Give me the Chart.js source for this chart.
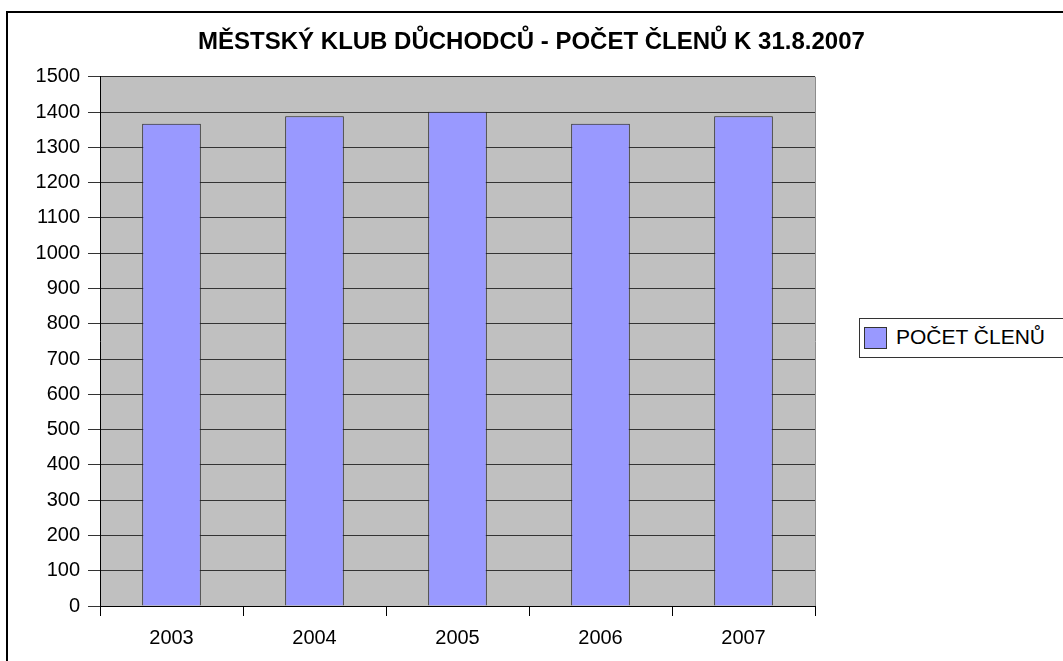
<!DOCTYPE html>
<html lang="cs">
<head>
<meta charset="UTF-8">
<title>Městský klub důchodců</title>
<script src="https://cdn.jsdelivr.net/npm/chart.js@4.4.1/dist/chart.umd.min.js"></script>
<style>
  body { margin: 0; background: #fff; font-family: "Liberation Sans", Arial, sans-serif; }
  #wrap { position: relative; width: 1063px; height: 661px; overflow: hidden; }
  #frame { position: absolute; left: 6px; top: 11px; width: 1100px; height: 700px;
           border-top: 2px solid #000; border-left: 2px solid #000; }
  #legend { position: absolute; left: 859px; top: 318px; width: 210px; height: 38px;
            border: 1px solid #333; background: #fff; }
  #legend .sw { position: absolute; left: 4px; top: 8px; width: 21px; height: 20px;
                background: #9999ff; border: 1px solid #333; }
  #legend .txt { position: absolute; left: 36px; top: 6px; font-size: 21px; color: #000; white-space: nowrap; }
  canvas { position: absolute; left: 0; top: 0; }
</style>
</head>
<body>
<div id="wrap">
  <div id="frame"></div>
  <canvas id="mycanvas" width="1063" height="661"></canvas>
  <div id="legend"><div class="sw"></div><div class="txt">POČET ČLENŮ</div></div>
</div>
<script>
  // data
  var roky = ['2003', '2004', '2005', '2006', '2007'];
  var pocetClenu = [1367, 1388, 1401, 1367, 1388];
  var nazev = 'MĚSTSKÝ KLUB DŮCHODCŮ - POČET ČLENŮ K 31.8.2007';
  var popisek = 'POČET ČLENŮ';

  // grey plot area like in Excel
  var pozadi = {
    id: 'pozadi',
    beforeDraw: function (chart) {
      var a = chart.chartArea, ctx = chart.ctx;
      ctx.save();
      ctx.fillStyle = '#c0c0c0';
      ctx.fillRect(a.left, a.top, a.right - a.left, a.bottom - a.top);
      ctx.strokeStyle = '#8c8c8c';
      ctx.lineWidth = 1;
      ctx.beginPath();
      ctx.moveTo(a.right + 0.5, a.top);
      ctx.lineTo(a.right + 0.5, a.bottom);
      ctx.stroke();
      ctx.restore();
    }
  };

  var ctx = document.getElementById('mycanvas');
  var graf = new Chart(ctx, {
    type: 'bar',
    data: {
      labels: roky,
      datasets: [{
        label: popisek,
        data: pocetClenu,
        backgroundColor: '#9999ff',
        borderColor: '#222',
        borderWidth: 1,
        barPercentage: 0.41,
        categoryPercentage: 1
      }]
    },
    options: {
      responsive: false,
      animation: false,
      layout: { padding: 0 },
      plugins: {
        legend: { display: false },
        tooltip: { enabled: false },
        title: {
          display: true,
          text: nazev,
          color: '#000',
          font: { family: 'Liberation Sans', size: 24, weight: 'bold' },
          padding: { top: 28, bottom: 20 }
        }
      },
      scales: {
        x: {
          afterFit: function (s) { s.height = 55; },
          grid: { offset: true, drawOnChartArea: false, drawTicks: true, tickLength: 10, color: '#000' },
          border: { color: '#000', width: 1 },
          ticks: { color: '#000', padding: 10, font: { family: 'Liberation Sans', size: 20 } }
        },
        y: {
          min: 0,
          max: 1500,
          afterFit: function (s) { s.width = 100; },
          grid: { color: '#333', tickLength: 12, drawTicks: true },
          border: { color: '#000', width: 1 },
          ticks: {
            stepSize: 100, color: '#000', padding: 8,
            font: { family: 'Liberation Sans', size: 20 },
            callback: function (v) { return String(v); }
          }
        },
        // empty right axis only to keep room for the legend
        misto: {
          type: 'linear',
          position: 'right',
          afterFit: function (s) { s.width = 248; },
          grid: { display: false },
          border: { display: false },
          ticks: { display: false }
        }
      }
    },
    plugins: [pozadi]
  });
</script>
</body>
</html>
